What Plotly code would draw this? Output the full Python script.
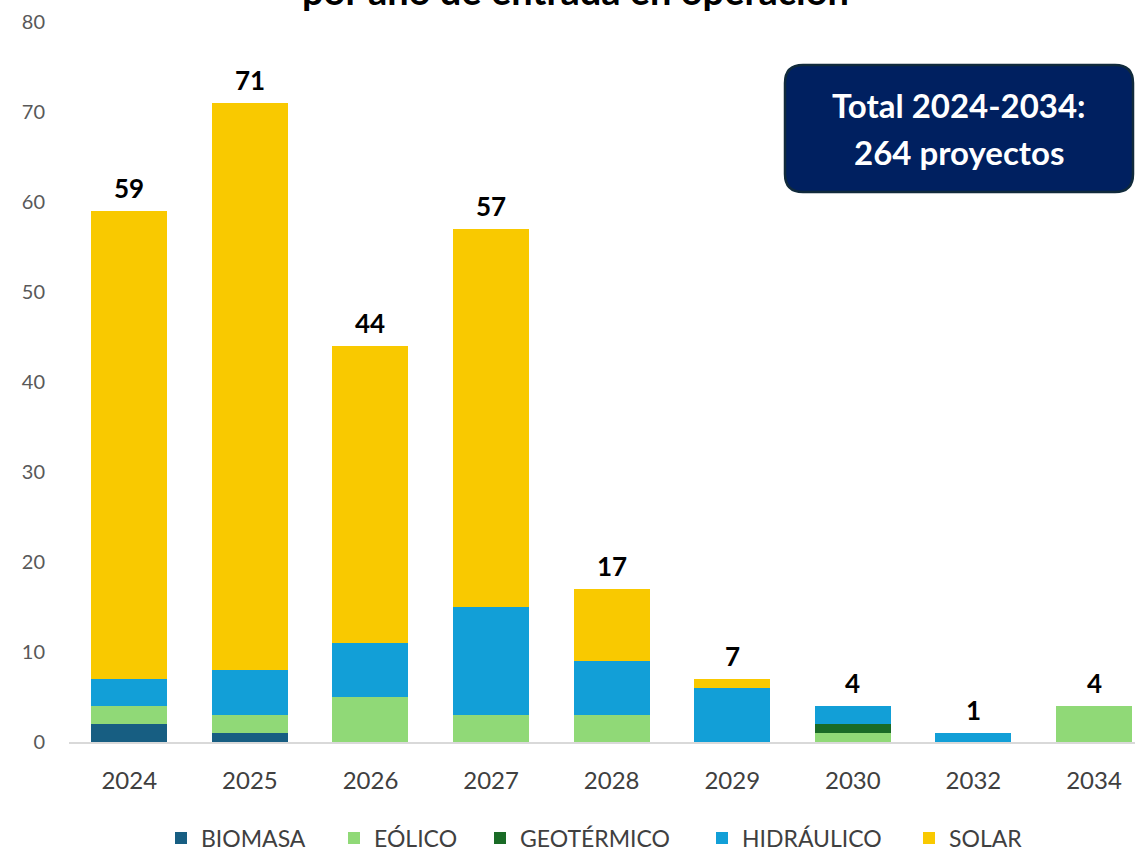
import plotly.graph_objects as go

years = ["2024", "2025", "2026", "2027", "2028", "2029", "2030", "2032", "2034"]
biomasa = [2, 1, 0, 0, 0, 0, 0, 0, 0]
eolico = [2, 2, 5, 3, 3, 0, 1, 0, 4]
geotermico = [0, 0, 0, 0, 0, 0, 1, 0, 0]
hidraulico = [3, 5, 6, 12, 6, 6, 2, 1, 0]
solar = [52, 63, 33, 42, 8, 1, 0, 0, 0]

series = [
    ("BIOMASA", biomasa, "#175e82"),
    ("EÓLICO", eolico, "#90d977"),
    ("GEOTÉRMICO", geotermico, "#1a6b26"),
    ("HIDRÁULICO", hidraulico, "#129fd7"),
    ("SOLAR", solar, "#f9c900"),
]
totals = [sum(v) for v in zip(biomasa, eolico, geotermico, hidraulico, solar)]

FONT = "Lato"
W, H = 1135, 851
PL, PW, PT, PH = 69, 1066, 22, 720  # plot area in pixels

# target x pixel of each legend square
legend_sq_x = [175, 348, 494, 716, 923]
LEG_OFFSET = 14  # approx px from legend box left edge to symbol left

fig = go.Figure()
for i, (name, vals, col) in enumerate(series):
    lg = "legend" if i == 0 else f"legend{i+1}"
    fig.add_trace(go.Bar(
        x=years, y=vals, name=name, legend=lg,
        marker=dict(color=col, line=dict(width=0)),
        hoverinfo="x+y+name",
    ))

for i, t in enumerate(totals):
    fig.add_annotation(
        x=i, y=t, text=f"<b>{t}</b>", showarrow=False,
        yanchor="bottom", yshift=5,
        font=dict(family=FONT, size=26, color="#000000"),
    )

# partially visible title
fig.add_annotation(
    xref="paper", yref="paper", x=0.475, y=1.045, xanchor="center", yanchor="middle",
    text="<b>por año de entrada en operación</b>", showarrow=False,
    font=dict(family=FONT, size=38, color="#000000"),
)

# rounded box
x0, x1 = (785 - PL) / PW, (1133 - PL) / PW
y0, y1 = (742 - 192) / PH, (742 - 65) / PH
rx, ry = 18 / PW, 18 / PH
path = (f"M {x0+rx},{y1} L {x1-rx},{y1} Q {x1},{y1} {x1},{y1-ry} "
        f"L {x1},{y0+ry} Q {x1},{y0} {x1-rx},{y0} L {x0+rx},{y0} "
        f"Q {x0},{y0} {x0},{y0+ry} L {x0},{y1-ry} Q {x0},{y1} {x0+rx},{y1} Z")
fig.add_shape(type="path", path=path, xref="paper", yref="paper",
              fillcolor="#002060", line=dict(color="#102a3c", width=2.5), layer="above")
fig.add_annotation(
    xref="paper", yref="paper", x=(x0 + x1) / 2, y=(742 - 105) / PH,
    text="<b>Total 2024-2034:</b>", showarrow=False, xanchor="center", yanchor="middle",
    font=dict(family=FONT, size=33, color="white"),
)
fig.add_annotation(
    xref="paper", yref="paper", x=(x0 + x1) / 2, y=(742 - 152) / PH,
    text="<b>264 proyectos</b>", showarrow=False, xanchor="center", yanchor="middle",
    font=dict(family=FONT, size=33, color="white"),
)

legends = {}
for i, sx in enumerate(legend_sq_x):
    key = "legend" if i == 0 else f"legend{i+1}"
    legends[key] = dict(
        orientation="h", xref="container", yref="container",
        x=(sx - LEG_OFFSET) / W, xanchor="left",
        y=(H - 838) / H, yanchor="middle",
        font=dict(family=FONT, size=23, color="#404040"),
        itemwidth=30, bgcolor="rgba(0,0,0,0)",
    )

fig.update_layout(
    barmode="stack",
    bargap=0.37,
    width=W, height=H,
    margin=dict(l=PL, r=0, t=PT, b=H - PT - PH, pad=0, autoexpand=False),
    plot_bgcolor="white", paper_bgcolor="white",
    font=dict(family=FONT, color="#404040"),
    showlegend=True,
    xaxis=dict(
        type="category", range=[-0.5, 8.34], showgrid=False,
        showline=True, linecolor="#d9d9d9", linewidth=2,
        ticks="", tickfont=dict(family=FONT, size=24, color="#404040"),
        ticklabelstandoff=16, zeroline=False,
    ),
    yaxis=dict(
        range=[0, 80], dtick=10, showgrid=False, zeroline=False, showline=False,
        ticks="", tickfont=dict(family=FONT, size=20, color="#595959"),
        ticklabelstandoff=23,
    ),
    **legends,
)

fig.write_html("out.html", config={"displayModeBar": False},
               post_script="document.body.style.margin='0';")
